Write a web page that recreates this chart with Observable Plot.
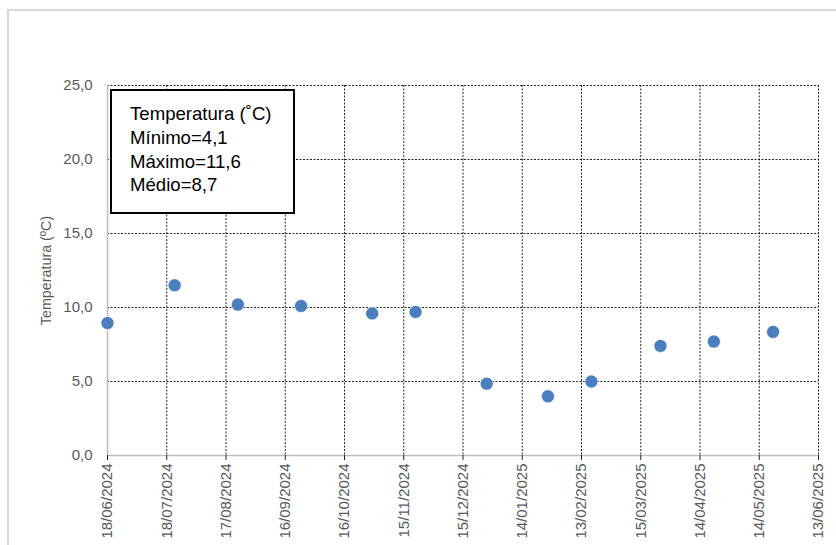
<!DOCTYPE html>
<html>
<head>
<meta charset="utf-8">
<script src="https://cdn.jsdelivr.net/npm/d3@7"></script>
<script src="https://cdn.jsdelivr.net/npm/@observablehq/plot@0.6"></script>
<style>
  html, body { margin: 0; padding: 0; background: #fff; overflow: hidden; }
  #wrap { position: relative; width: 836px; height: 545px; }
  #outer { position: absolute; left: 7px; top: 9px; width: 900px; height: 600px;
           border-left: 2px solid #d9d9d9; border-top: 2px solid #d9d9d9; pointer-events: none; }
  #note { position: absolute; left: 110px; top: 89px; width: 163px; height: 101px;
          border: 2px solid #000; background: #fff; padding: 11px 0 9px 18px;
          font-family: "Liberation Sans", Arial, sans-serif; font-size: 18.6px; line-height: 23.8px; color: #000; }
</style>
</head>
<body>
<div id="wrap"></div>
<script>
// ---- data ----
const sampleDates = ["2024-06-18","2024-07-22","2024-08-23","2024-09-24","2024-10-30","2024-11-21",
                     "2024-12-27","2025-01-27","2025-02-18","2025-03-25","2025-04-21","2025-05-21"];
const temperatures = [8.95, 11.5, 10.2, 10.1, 9.6, 9.7, 4.85, 4.0, 5.0, 7.4, 7.7, 8.35];
const xTickDates = ["2024-06-18","2024-07-18","2024-08-17","2024-09-16","2024-10-16","2024-11-15",
                    "2024-12-15","2025-01-14","2025-02-13","2025-03-15","2025-04-14","2025-05-14","2025-06-13"];
const yTicks = [0, 5, 10, 15, 20, 25];
const yTitle = "Temperatura (ºC)";
const noteLines = ["Temperatura (˚C)", "Mínimo=4,1", "Máximo=11,6", "Médio=8,7"];

const data = sampleDates.map((d, i) => ({date: new Date(d), value: temperatures[i]}));
const ticks = xTickDates.map(d => new Date(d));
const fmtDate = d3.utcFormat("%d/%m/%Y");
const fmtY = v => v.toFixed(1).replace(".", ",");
const font = "'Liberation Sans', Arial, sans-serif";

const chart = Plot.plot({
  width: 836,
  height: 545,
  marginLeft: 107,
  marginRight: 18,
  marginTop: 85,
  marginBottom: 90,
  style: {fontFamily: font, fontSize: "15px", color: "#595959", background: "transparent"},
  x: {type: "utc", domain: [ticks[0], ticks[ticks.length - 1]]},
  y: {domain: [0, 25]},
  marks: [
    Plot.ruleY(yTicks.slice(1), {stroke: "#000", strokeOpacity: 0.85, strokeDasharray: "2,1.5", strokeWidth: 1}),
    Plot.ruleX(ticks.slice(1), {stroke: "#000", strokeOpacity: 0.85, strokeDasharray: "2,1.5", strokeWidth: 1}),
    Plot.ruleX([ticks[0]], {stroke: "#bfbfbf", strokeWidth: 1.5}),
    Plot.ruleY([0], {stroke: "#bfbfbf", strokeWidth: 1.5}),
    Plot.axisY({ticks: yTicks, tickFormat: fmtY, tickSize: 0, tickPadding: 15, label: null, fill: "#595959", fontSize: "15px"}),
    Plot.axisX({ticks: ticks, tickFormat: fmtDate, tickRotate: -90, tickSize: 5, tickPadding: 3,
                stroke: "#222", fill: "#595959", label: null, fontSize: "15px"}),
    Plot.text([yTitle], {frameAnchor: "left", textAnchor: "middle", rotate: -90, dx: -61, fill: "#595959", fontSize: 14.3}),
    Plot.dot(data, {x: "date", y: "value", r: 6.5, fill: "#4a7ebe", stroke: "#fff", strokeWidth: 0.6})
  ]
});

const wrap = document.getElementById("wrap");
wrap.appendChild(chart);
const outer = document.createElement("div");
outer.id = "outer";
wrap.appendChild(outer);
const note = document.createElement("div");
note.id = "note";
note.innerHTML = noteLines.map(s => `<div>${s}</div>`).join("");
wrap.appendChild(note);
</script>
</body>
</html>
